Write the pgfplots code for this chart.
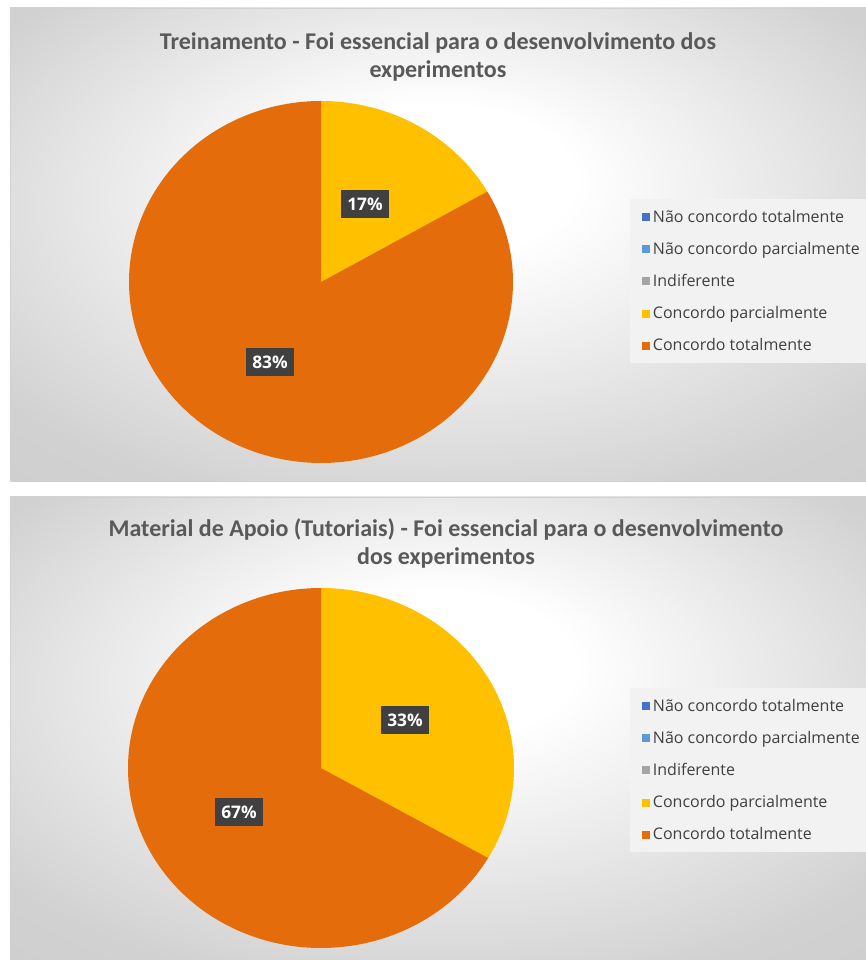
\documentclass[border=0pt]{standalone}
\usepackage{pgfplots}
\pgfplotsset{compat=1.18}
\usepackage{pgfplotstable}
\usepackage{fontspec}
\setmainfont{Carlito}
\newfontfamily\legfont{Open Sans}
\definecolor{cblueA}{HTML}{4472C4}
\definecolor{cblueB}{HTML}{5B9BD5}
\definecolor{cgray}{HTML}{A5A5A5}
\definecolor{cyel}{HTML}{FFC000}
\definecolor{corange}{HTML}{E46C0A}
\definecolor{labbg}{HTML}{404040}
\definecolor{titlegray}{HTML}{595959}
\definecolor{legtext}{HTML}{404040}
\pgfdeclareradialshading{panelshade}{\pgfpoint{0bp}{8bp}}{color(0bp)=(white); color(8bp)=(white); color(32bp)=(black!18); color(50bp)=(black!21)}

% Treinamento (percentages)
\pgfplotstableread{
cat value
NCT 0
NCP 0
IND 0
CP 16.67
CT 83.33
}\dataA
% Material de Apoio (percentages)
\pgfplotstableread{
cat value
NCT 0
NCP 0
IND 0
CP 33.33
CT 66.67
}\dataB

\pgfplotstablegetelem{3}{value}\of\dataA
\pgfmathsetmacro\angA{90-3.6*\pgfplotsretval}
\pgfplotstablegetelem{3}{value}\of\dataB
\pgfmathsetmacro\angB{90-3.6*\pgfplotsretval}

\pgfplotsset{
  panel/.style={
    scale only axis,
    axis line style={draw=black!18},
    xtick=\empty, ytick=\empty,
    axis background/.style={shading=panelshade},
    clip=false,
    legend cell align=left,
    legend image code/.code={\fill[##1, draw=none] (0pt,-3pt) rectangle (6pt,3pt);},
    legend style={anchor=north west, fill=black!5, draw=none,
      font=\legfont\fontsize{12}{14}\selectfont, text=legtext,
      row sep=13.5pt, inner xsep=9pt, inner ysep=8pt,
      nodes={inner xsep=2pt, inner ysep=0pt}},
  },
}
\tikzset{
  lab/.style={fill=labbg, text=white, font=\legfont\bfseries\fontsize{13}{15}\selectfont, inner xsep=5pt, inner ysep=6pt},
  ttl/.style={font=\bfseries\fontsize{18}{21}\selectfont, text=titlegray, align=center},
}

\begin{document}
\begin{tikzpicture}
\useasboundingbox (0,0) rectangle (649.5pt,720pt);
% ---------- Panel 1 ----------
\begin{axis}[panel, at={(7.5pt,359.25pt)}, anchor=south west,
  width=642pt, height=354.75pt, xmin=0, xmax=856, ymin=0, ymax=473,
  legend style={at={(axis cs:620,282)}}]
\addplot[fill=cyel, draw=none, domain=\angA:90, samples=80, forget plot]
  ({311+192*cos(x)},{199+181*sin(x)}) -- (311,199) -- cycle;
\addplot[fill=corange, draw=none, domain=-270:\angA, samples=200, forget plot]
  ({311+192*cos(x)},{199+181*sin(x)}) -- (311,199) -- cycle;
\addlegendimage{fill=cblueA}\addlegendentry{Não concordo totalmente}
\addlegendimage{fill=cblueB}\addlegendentry{Não concordo parcialmente}
\addlegendimage{fill=cgray}\addlegendentry{Indiferente}
\addlegendimage{fill=cyel}\addlegendentry{Concordo parcialmente}
\addlegendimage{fill=corange}\addlegendentry{Concordo totalmente}
\node[lab] at (355,277) {17\%};
\node[lab] at (260,119) {83\%};
\node[ttl] at (428,424) {Treinamento - Foi essencial para o desenvolvimento dos\\experimentos};
\end{axis}
% ---------- Panel 2 ----------
\begin{axis}[panel, at={(7.5pt,0pt)}, anchor=south west,
  width=642pt, height=347.25pt, xmin=0, xmax=856, ymin=0, ymax=463,
  legend style={at={(axis cs:620,272)}}]
\addplot[fill=cyel, draw=none, domain=\angB:90, samples=100, forget plot]
  ({311+193*cos(x)},{192+180*sin(x)}) -- (311,192) -- cycle;
\addplot[fill=corange, draw=none, domain=-270:\angB, samples=200, forget plot]
  ({311+193*cos(x)},{192+180*sin(x)}) -- (311,192) -- cycle;
\addlegendimage{fill=cblueA}\addlegendentry{Não concordo totalmente}
\addlegendimage{fill=cblueB}\addlegendentry{Não concordo parcialmente}
\addlegendimage{fill=cgray}\addlegendentry{Indiferente}
\addlegendimage{fill=cyel}\addlegendentry{Concordo parcialmente}
\addlegendimage{fill=corange}\addlegendentry{Concordo totalmente}
\node[lab] at (395,240) {33\%};
\node[lab] at (229,148) {67\%};
\node[ttl] at (436,417) {Material de Apoio (Tutoriais) - Foi essencial para o desenvolvimento\\dos experimentos};
\end{axis}
\end{tikzpicture}
\end{document}
